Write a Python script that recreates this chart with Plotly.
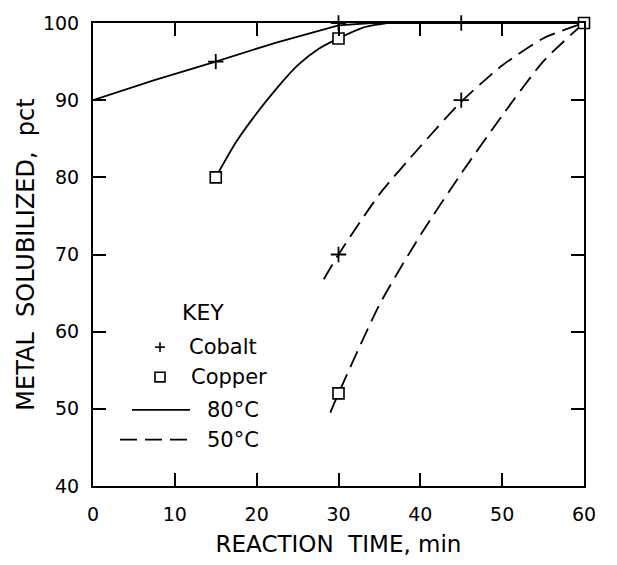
import plotly.graph_objects as go

# ---- data ----
# measured points (markers)
cobalt_80_x = [15, 30, 45]
cobalt_80_y = [95, 100, 100]
copper_80_x = [15, 30, 60]
copper_80_y = [80, 98, 100]
cobalt_50_x = [30, 45]
cobalt_50_y = [70, 90]
copper_50_x = [30]
copper_50_y = [52]

# fitted curves
cobalt_80_curve_x = [0, 7.5, 15, 22.5, 30, 34, 45, 60]
cobalt_80_curve_y = [90, 92.6, 95, 97.5, 99.7, 100, 100, 100]
copper_80_curve_x = [15, 17.5, 20, 22.5, 25, 27.5, 30, 33, 36, 40]
copper_80_curve_y = [80, 84.6, 88.3, 91.6, 94.5, 96.6, 98, 99.4, 100, 100]
cobalt_50_curve_x = [28.2, 30, 35, 40, 45, 50, 55, 60]
cobalt_50_curve_y = [66.8, 70, 77.8, 84, 89.8, 94.5, 98, 100]
copper_50_curve_x = [29, 30, 35, 40, 45, 50, 55, 60]
copper_50_curve_y = [49.5, 52, 63.5, 72.5, 80.5, 88, 95, 100]

x_ticks = [0, 10, 20, 30, 40, 50, 60]
y_ticks = [40, 50, 60, 70, 80, 90, 100]

FONT = "DejaVu Sans"
W, H = 617, 565
L, R, T, B = 93, 33, 17, 68
PW, PH = W - L - R, H - T - B

DASH = "17px,8px"

fig = go.Figure()

def curve(x, y, dash, shape="spline"):
    fig.add_trace(go.Scatter(x=x, y=y, mode="lines",
                             line=dict(color="black", width=1.8, dash=dash, shape=shape, smoothing=0.6),
                             showlegend=False, hoverinfo="skip"))

curve(cobalt_80_curve_x, cobalt_80_curve_y, "solid", "linear")
curve(copper_80_curve_x, copper_80_curve_y, "solid")
curve(cobalt_50_curve_x, cobalt_50_curve_y, DASH)
curve(copper_50_curve_x, copper_50_curve_y, DASH)

# cobalt: plus markers
fig.add_trace(go.Scatter(x=cobalt_80_x + cobalt_50_x, y=cobalt_80_y + cobalt_50_y,
                         mode="markers", cliponaxis=False,
                         marker=dict(symbol="cross-thin", size=11, color="black",
                                     line=dict(color="black", width=1.8)),
                         showlegend=False, hoverinfo="skip"))
# copper: open squares (white filled so lines stop at the edge)
fig.add_trace(go.Scatter(x=copper_80_x + copper_50_x, y=copper_80_y + copper_50_y,
                         mode="markers", cliponaxis=False,
                         marker=dict(symbol="square", size=11, color="white",
                                     line=dict(color="black", width=1.6)),
                         showlegend=False, hoverinfo="skip"))

# ---- key (drawn in pixel-derived paper coordinates) ----
def px(x):
    return (x - L) / PW

def py(y):
    return (H - B - y) / PH

shapes = []
shapes.append(dict(type="line", xref="paper", yref="paper", x0=px(155), x1=px(165), y0=py(353), y1=py(353),
                   line=dict(color="black", width=1.6)))
shapes.append(dict(type="line", xref="paper", yref="paper", x0=px(160), x1=px(160), y0=py(348), y1=py(358),
                   line=dict(color="black", width=1.6)))
shapes.append(dict(type="rect", xref="paper", yref="paper", x0=px(155), x1=px(165), y0=py(379), y1=py(389),
                   line=dict(color="black", width=1.6)))
shapes.append(dict(type="line", xref="paper", yref="paper", x0=px(132), x1=px(190), y0=py(418), y1=py(418),
                   line=dict(color="black", width=1.8)))
shapes.append(dict(type="line", xref="paper", yref="paper", x0=px(120), x1=px(190), y0=py(449), y1=py(449),
                   line=dict(color="black", width=1.8, dash=DASH)))

annotations = []
def label(text, x, y, size=21, xanchor="left"):
    annotations.append(dict(text=text, xref="paper", yref="paper", x=px(x), y=py(y),
                            xanchor=xanchor, yanchor="middle", showarrow=False,
                            font=dict(family=FONT, size=size, color="black")))

label("KEY", 203, 317, 22, "center")
label("Cobalt", 187, 353)
label("Copper", 189, 384)
label("80°C", 205, 418)
label("50°C", 205, 449)

axis_common = dict(showline=True, linecolor="black", linewidth=2, mirror="ticks",
                   ticks="inside", ticklen=13, tickwidth=1.6, tickcolor="black",
                   showgrid=False, zeroline=False,
                   tickfont=dict(family=FONT, size=19, color="black"))

fig.update_layout(
    width=W, height=H,
    margin=dict(l=L, r=R, t=T, b=B),
    paper_bgcolor="white", plot_bgcolor="white",
    xaxis=dict(range=[0, 60], tickvals=x_ticks, ticklabelstandoff=10,
               title=dict(text="REACTION\u00a0\u00a0TIME,\u00a0min", standoff=12,
                          font=dict(family=FONT, size=23, color="black")),
               **axis_common),
    yaxis=dict(range=[40, 100], tickvals=y_ticks, ticklabelstandoff=8,
               title=dict(text="METAL\u00a0\u00a0SOLUBILIZED,\u00a0\u00a0pct", standoff=2,
                          font=dict(family=FONT, size=24, color="black")),
               **axis_common),
    shapes=shapes,
    annotations=annotations,
    showlegend=False,
)

fig.write_html("out.html")
